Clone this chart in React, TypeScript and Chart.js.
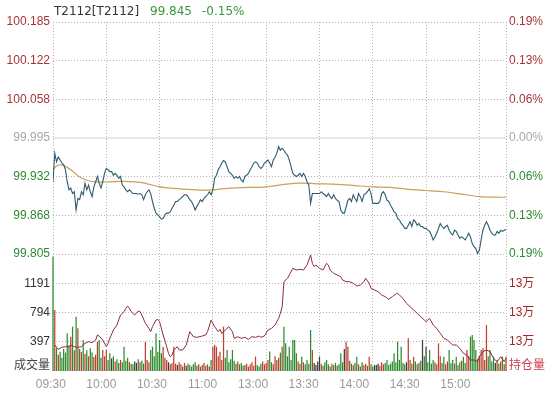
import { useEffect, useRef } from 'react';
import { Chart, registerables } from 'chart.js';

Chart.register(...registerables);

// ---------- data ----------
const contractName = 'T2112[T2112]';
const prevClose = 99.995;
const timeLabels = ['09:30', '10:00', '10:30', '11:00', '13:00', '13:30', '14:00', '14:30', '15:00'];
const sessionGridMinutes = [0, 30, 60, 90, 120, 150, 180, 210, 240, 255];
const priceTicks = [99.805, 99.868, 99.932, 99.995, 100.058, 100.122, 100.185];
const pctLabels = ['0.19%', '0.13%', '0.06%', '0.00%', '0.06%', '0.13%', '0.19%'];
const volumeTicks = [397, 794, 1191];
const volumeTop = 1588;
const oiTickLabels = ['13万', '13万', '13万'];
const oiBottom = 129000;
const oiTop = 134850;

// one price per minute (0 = 09:30 ... 255 = 15:15, lunch break removed)
const prices = [
  99.923, 99.970, 99.956, 99.964, 99.959, 99.954, 99.951, 99.943, 99.923, 99.910,
  99.913, 99.904, 99.907, 99.877, 99.896, 99.894, 99.907, 99.902, 99.921, 99.910,
  99.918, 99.907, 99.899, 99.915, 99.923, 99.932, 99.921, 99.913, 99.923, 99.937,
  99.945, 99.943, 99.940, 99.940, 99.934, 99.937, 99.934, 99.929, 99.932, 99.918,
  99.915, 99.910, 99.907, 99.910, 99.907, 99.904, 99.904, 99.904, 99.903, 99.904,
  99.902, 99.894, 99.902, 99.907, 99.910, 99.904, 99.891, 99.880, 99.872, 99.869,
  99.866, 99.862, 99.863, 99.869, 99.872, 99.872, 99.874, 99.880, 99.885, 99.891,
  99.891, 99.894, 99.896, 99.899, 99.902, 99.902, 99.899, 99.894, 99.891, 99.885,
  99.877, 99.883, 99.888, 99.894, 99.891, 99.896, 99.899, 99.902, 99.907, 99.902,
  99.910, 99.929, 99.934, 99.943, 99.948, 99.954, 99.958, 99.956, 99.948, 99.940,
  99.937, 99.934, 99.929, 99.932, 99.929, 99.932, 99.926, 99.923, 99.932, 99.934,
  99.937, 99.943, 99.948, 99.954, 99.956, 99.954, 99.948, 99.945, 99.948, 99.954,
  99.956, 99.959, 99.954, 99.948, 99.959, 99.964, 99.970, 99.981, 99.975, 99.978,
  99.975, 99.970, 99.967, 99.959, 99.948, 99.937, 99.934, 99.932, 99.934, 99.937,
  99.932, 99.937, 99.932, 99.923, 99.918, 99.888, 99.904, 99.904, 99.904, 99.904,
  99.904, 99.907, 99.904, 99.902, 99.899, 99.904, 99.899, 99.896, 99.902, 99.896,
  99.893, 99.891, 99.877, 99.872, 99.872, 99.882, 99.893, 99.896, 99.891, 99.902,
  99.896, 99.891, 99.904, 99.899, 99.891, 99.902, 99.904, 99.907, 99.912, 99.904,
  99.888, 99.888, 99.888, 99.888, 99.891, 99.904, 99.907, 99.902, 99.893, 99.891,
  99.885, 99.880, 99.874, 99.872, 99.863, 99.861, 99.855, 99.852, 99.847, 99.847,
  99.852, 99.858, 99.850, 99.861, 99.858, 99.852, 99.855, 99.850, 99.850, 99.847,
  99.847, 99.844, 99.842, 99.836, 99.828, 99.833, 99.839, 99.847, 99.855, 99.850,
  99.847, 99.850, 99.852, 99.844, 99.839, 99.836, 99.844, 99.842, 99.836, 99.831,
  99.833, 99.831, 99.828, 99.833, 99.839, 99.833, 99.822, 99.817, 99.814, 99.806,
  99.811, 99.828, 99.844, 99.852, 99.858, 99.852, 99.844, 99.839, 99.836, 99.836,
  99.842, 99.839, 99.844, 99.842, 99.844, 99.845,
];

// average price line: [minute, price]
const averagePrice: [number, number][] = [
  [0, 99.943], [2, 99.949], [5, 99.951], [10, 99.943], [15, 99.931], [20, 99.925],
  [25, 99.923], [30, 99.923], [40, 99.924], [50, 99.922], [60, 99.915], [70, 99.912],
  [80, 99.910], [90, 99.910], [100, 99.913], [110, 99.914], [120, 99.915], [130, 99.919],
  [140, 99.921], [150, 99.920], [160, 99.919], [170, 99.917], [180, 99.915], [190, 99.914],
  [200, 99.911], [210, 99.909], [220, 99.907], [230, 99.903], [240, 99.899], [250, 99.898],
  [255, 99.898],
];

// volume per minute
const volumes = [
  1551, 828, 310, 220, 260, 180, 300, 250, 511, 350,
  466, 602, 280, 738, 579, 300, 260, 421, 230, 280,
  200, 308, 250, 190, 220, 398, 421, 180, 285, 200,
  285, 150, 240, 170, 200, 130, 160, 110, 150, 120,
  330, 140, 180, 120, 100, 90, 130, 110, 160, 120,
  140, 100, 398, 150, 120, 285, 330, 200, 511, 260,
  421, 240, 330, 180, 150, 120, 90, 110, 330, 100,
  80, 120, 90, 60, 110, 70, 100, 80, 60, 90,
  120, 70, 90, 60, 80, 110, 70, 90, 60, 150,
  330, 353, 330, 200, 260, 150, 602, 180, 285, 120,
  160, 285, 140, 100, 130, 90, 110, 70, 80, 100,
  60, 90, 120, 70, 195, 80, 60, 100, 130, 90,
  110, 150, 263, 120, 90, 200, 150, 180, 250, 330,
  602, 376, 200, 330, 150, 421, 421, 240, 130, 100,
  195, 120, 90, 150, 100, 556, 285, 110, 80, 130,
  195, 100, 70, 120, 149, 90, 60, 100, 80, 110,
  70, 90, 240, 120, 300, 398, 330, 140, 100, 80,
  110, 195, 90, 60, 120, 80, 100, 70, 195, 90,
  60, 80, 81, 100, 70, 120, 90, 110, 149, 80,
  100, 130, 240, 120, 398, 150, 330, 110, 90, 120,
  443, 150, 100, 195, 130, 90, 110, 140, 421, 200,
  330, 120, 285, 100, 150, 120, 90, 376, 200, 110,
  195, 90, 130, 285, 110, 150, 100, 195, 80, 120,
  140, 195, 110, 285, 200, 466, 489, 421, 285, 160,
  200, 285, 308, 150, 624, 200, 285, 130, 195, 110,
  149, 100, 130, 195, 90, 195,
];

// open interest: [minute, contracts]
const openInterest: [number, number][] = [
  [1, 130300], [3, 130083], [5, 130183], [7, 130217], [9, 130217], [10, 130300],
  [12, 130217], [14, 130183], [16, 130217], [18, 130383], [20, 130467], [22, 130417],
  [24, 130550], [25, 130800], [26, 130750], [28, 130550], [30, 130217], [31, 130383],
  [32, 130633], [34, 131050], [36, 131300], [38, 131800], [40, 131967], [41, 132133],
  [42, 132250], [43, 132133], [44, 131967], [46, 131800], [48, 132000], [49, 131967],
  [50, 131800], [52, 131383], [54, 131133], [55, 130967], [56, 131217], [58, 131550],
  [59, 131583], [60, 131467], [62, 130800], [64, 130217], [65, 129883], [66, 129717],
  [67, 129800], [68, 130050], [70, 130217], [71, 130050], [73, 130050], [75, 130300],
  [77, 130967], [79, 130717], [81, 130683], [84, 130750], [86, 130800], [87, 130967],
  [89, 131550], [91, 131217], [93, 130967], [94, 131083], [95, 130883], [97, 131050],
  [99, 131217], [101, 130967], [102, 130633], [104, 130717], [106, 130633], [108, 130683],
  [110, 130583], [112, 130717], [114, 130683], [116, 130750], [117, 130683], [119, 130750],
  [121, 131050], [123, 131133], [125, 131300], [127, 131633], [128, 131883], [129, 132217],
  [130, 133467], [132, 133633], [133, 133800], [135, 134133], [137, 134050], [139, 134083],
  [141, 134050], [143, 134300], [145, 134800], [146, 134383], [147, 134217], [148, 134300],
  [150, 134133], [152, 134050], [154, 134383], [155, 134300], [156, 134050], [158, 133883],
  [160, 133800], [162, 133717], [163, 133550], [165, 133467], [167, 133467], [169, 133383],
  [171, 133250], [173, 133300], [175, 133467], [176, 133633], [178, 133383], [179, 133133],
  [181, 133050], [183, 132967], [185, 132800], [187, 132717], [189, 132583], [191, 132717],
  [193, 132850], [194, 132883], [195, 132800], [197, 132633], [199, 132383], [201, 132217],
  [203, 132050], [205, 131883], [207, 131717], [209, 131550], [210, 131467], [212, 131633],
  [214, 131300], [216, 131133], [218, 130883], [220, 130633], [222, 130550], [224, 130383],
  [225, 130300], [227, 130300], [229, 130133], [231, 129883], [233, 129800], [235, 129550],
  [237, 129550], [239, 129467], [240, 129717], [242, 129967], [244, 130050], [246, 129967],
  [248, 129633], [250, 129467], [252, 129717], [254, 129467], [255, 129633],
];

// ---------- layout / style ----------
const W = 549;
const H = 393;
const PRICE_PANE_PX = 232;
const VOL_PANE_PX = 117;
const CAPTION_VOL = 68;
const LABEL_AXIS_MIN = 0.0435;
const LABEL_AXIS_MAX = 9.003;
const FONT = '"Liberation Sans", Arial, "Noto Sans CJK SC", sans-serif';
const RED = '#a53535';
const GREEN = '#2f8a2f';
const GREY = '#a8a8a8';
const GRID = '#b5b5b5';

const priceBottom = priceTicks[0];
const priceTop = priceTicks[priceTicks.length - 1];
const pricePerPx = (priceTop - priceBottom) / PRICE_PANE_PX;
const axisMin = priceBottom - pricePerPx * VOL_PANE_PX;
const volAxisMax = (volumeTop * (PRICE_PANE_PX + VOL_PANE_PX)) / VOL_PANE_PX;
const oiAxisMax = oiBottom + ((oiTop - oiBottom) * (PRICE_PANE_PX + VOL_PANE_PX)) / VOL_PANE_PX;
const volToPriceUnits = (v: number) => axisMin + (v / volumeTop) * (priceBottom - axisMin);

type TickDef = { value: number; left: string; right: string; leftColor: string; rightColor: string; grid: boolean };
const tickDefs: TickDef[] = [
  { value: volToPriceUnits(CAPTION_VOL), left: '成交量', right: '持仓量', leftColor: '#444', rightColor: '#cc3b4a', grid: false },
  ...volumeTicks.map((v, i) => ({
    value: volToPriceUnits(v), left: String(v), right: oiTickLabels[i], leftColor: '#333', rightColor: '#a02a2a', grid: true,
  })),
  ...priceTicks.map((p, i) => {
    const d = p - prevClose;
    const c = d > 0.0005 ? RED : d < -0.0005 ? GREEN : GREY;
    return { value: p, left: p.toFixed(3), right: pctLabels[i], leftColor: c, rightColor: c, grid: Math.abs(d) > 0.0005 };
  }),
];

const lastPrice = prices[prices.length - 1];
const changePct = ((lastPrice - prevClose) / prevClose) * 100;

export default function App() {
  const ref = useRef<HTMLCanvasElement>(null);

  useEffect(() => {
    const barColors = volumes.map((_, i) => {
      const prev = i === 0 ? prevClose : prices[i - 1];
      const cur = prices[i];
      if (cur > prev) return '#b8442f';
      if (cur < prev) return '#2e8b2e';
      return '#3c3c3c';
    });

    const chart = new Chart(ref.current as HTMLCanvasElement, {
      type: 'line',
      data: {
        datasets: [
          {
            type: 'line',
            data: [{ x: 0, y: prevClose }, { x: 255, y: prevClose }],
            borderColor: '#cfcfcf',
            borderWidth: 1,
            pointRadius: 0,
            xAxisID: 'x',
            yAxisID: 'yL',
            order: 6,
          },
          {
            type: 'bar',
            data: volumes.map((v, i) => ({ x: i, y: v })),
            backgroundColor: barColors,
            borderWidth: 0,
            barPercentage: 0.7,
            categoryPercentage: 1,
            clip: false,
            xAxisID: 'x',
            yAxisID: 'yV',
            order: 5,
          },
          {
            type: 'line',
            data: averagePrice.map(([m, p]) => ({ x: m, y: p })),
            borderColor: '#caa05a',
            borderWidth: 1.2,
            pointRadius: 0,
            tension: 0.3,
            xAxisID: 'x',
            yAxisID: 'yL',
            order: 4,
          },
          {
            type: 'line',
            data: openInterest.map(([m, v]) => ({ x: m, y: v })),
            borderColor: '#8c2c45',
            borderWidth: 1,
            pointRadius: 0,
            xAxisID: 'x',
            yAxisID: 'yO',
            order: 3,
          },
          {
            type: 'line',
            data: prices.map((p, i) => ({ x: i, y: p })),
            borderColor: '#2f5c70',
            borderWidth: 1.1,
            pointRadius: 0,
            xAxisID: 'x',
            yAxisID: 'yL',
            order: 1,
          },
        ],
      },
      options: {
        responsive: false,
        animation: false,
        events: [],
        layout: { padding: { top: 22, left: 0, right: 0, bottom: 0 } },
        plugins: { legend: { display: false }, tooltip: { enabled: false } },
        scales: {
          x: {
            type: 'linear',
            position: 'bottom',
            min: 0,
            max: 255,
            offset: false,
            afterBuildTicks: (s: any) => { s.ticks = sessionGridMinutes.map((v) => ({ value: v })); },
            ticks: { display: false },
            grid: { color: GRID, drawTicks: false, lineWidth: 1, offset: false },
            border: { display: false, dash: [1, 2] },
            afterFit: (s: any) => { s.height = 0; },
          },
          x2: {
            type: 'linear',
            axis: 'x',
            position: 'bottom',
            min: LABEL_AXIS_MIN,
            max: LABEL_AXIS_MAX,
            offset: false,
            afterBuildTicks: (s: any) => { s.ticks = timeLabels.map((_, i) => ({ value: i })); },
            ticks: {
              autoSkip: false,
              maxRotation: 0,
              padding: 6,
              color: '#9a9a9a',
              font: { family: FONT, size: 12 },
              callback: (v: any) => timeLabels[Math.round(Number(v))] ?? '',
            },
            grid: { display: false, drawTicks: false },
            border: { display: false },
            afterFit: (s: any) => { s.height = 22; },
          },
          yL: {
            type: 'linear',
            position: 'left',
            min: axisMin,
            max: priceTop,
            afterBuildTicks: (s: any) => { s.ticks = tickDefs.map((t) => ({ value: t.value })); },
            ticks: {
              autoSkip: false,
              padding: 3,
              font: { family: FONT, size: 12 },
              color: (ctx: any) => tickDefs[ctx.index]?.leftColor ?? '#333',
              callback: (_v: any, i: number) => tickDefs[i]?.left ?? '',
            },
            grid: {
              drawTicks: false,
              lineWidth: 1,
              color: (ctx: any) => (tickDefs[ctx.index]?.grid ? GRID : 'rgba(0,0,0,0)'),
            },
            border: { display: false, dash: [1, 2] },
            afterFit: (s: any) => { s.width = 53; },
          },
          yR: {
            type: 'linear',
            position: 'right',
            min: axisMin,
            max: priceTop,
            afterBuildTicks: (s: any) => { s.ticks = tickDefs.map((t) => ({ value: t.value })); },
            ticks: {
              autoSkip: false,
              padding: 3,
              font: { family: FONT, size: 12 },
              color: (ctx: any) => tickDefs[ctx.index]?.rightColor ?? '#333',
              callback: (_v: any, i: number) => tickDefs[i]?.right ?? '',
            },
            grid: { display: false, drawTicks: false },
            border: { display: false },
            afterFit: (s: any) => { s.width = 43; },
          },
          yV: { type: 'linear', display: false, min: 0, max: volAxisMax },
          yO: { type: 'linear', display: false, min: oiBottom, max: oiAxisMax },
        },
      } as any,
    });
    return () => chart.destroy();
  }, []);

  return (
    <div style={{ position: 'absolute', left: 0, top: 0, width: W, height: H, background: '#fff', overflow: 'hidden' }}>
      <canvas ref={ref} width={W} height={H} style={{ display: 'block' }} />
      <div style={{ position: 'absolute', top: 4, left: 0, font: '12px "DejaVu Sans", sans-serif', lineHeight: '14px', whiteSpace: 'nowrap' }}>
        <span style={{ position: 'absolute', left: 54, color: '#333' }}>{contractName}</span>
        <span style={{ position: 'absolute', left: 150, color: '#3c963c' }}>{lastPrice.toFixed(3)}</span>
        <span style={{ position: 'absolute', left: 202, color: '#3c963c' }}>{changePct.toFixed(2)}%</span>
      </div>
    </div>
  );
}
